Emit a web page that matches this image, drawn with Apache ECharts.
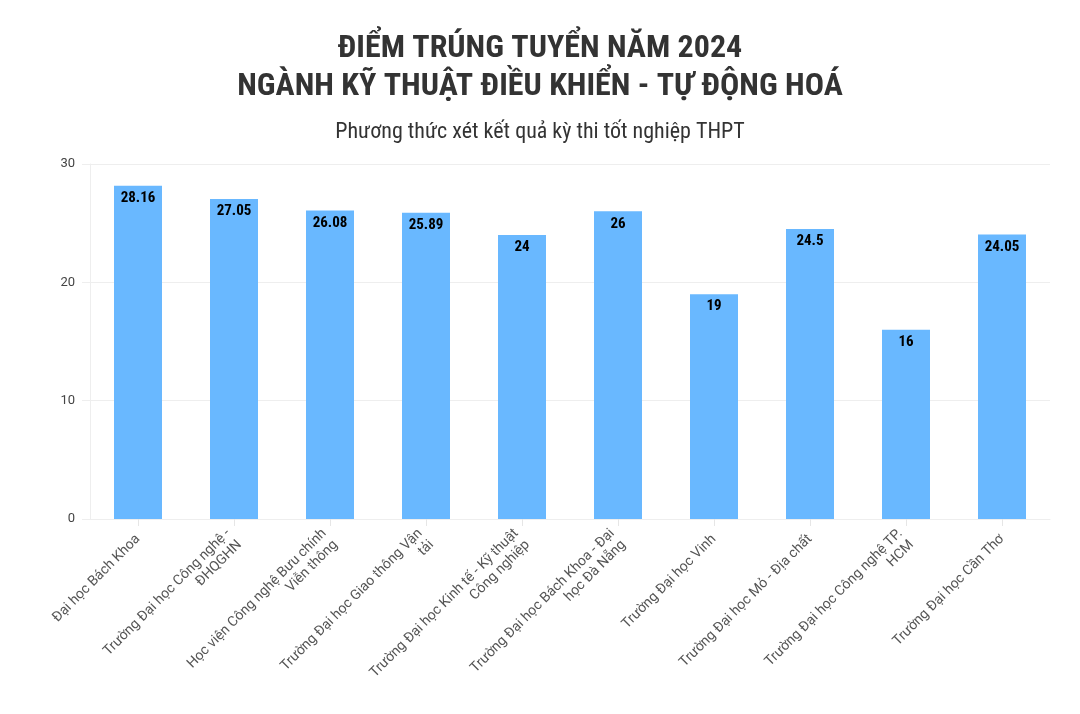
<!DOCTYPE html>
<html>
<head>
<meta charset="utf-8">
<script src="https://cdn.jsdelivr.net/npm/echarts@6/dist/echarts.min.js"></script>
<style>html,body{margin:0;padding:0;background:#fff}#c{width:1080px;height:714px}</style>
</head>
<body>
<div id="c"></div>
<script>
const categories = [
  "Đại học Bách Khoa",
  "Trường Đại học Công nghệ - ĐHQGHN",
  "Học viện Công nghệ Bưu chính Viễn thông",
  "Trường Đại học Giao thông Vận tải",
  "Trường Đại học Kinh tế - Kỹ thuật Công nghiệp",
  "Trường Đại học Bách Khoa - Đại học Đà Nẵng",
  "Trường Đại học Vinh",
  "Trường Đại học Mỏ - Địa chất",
  "Trường Đại học Công nghệ TP. HCM",
  "Trường Đại học Cần Thơ"
];
const scores = [28.16, 27.05, 26.08, 25.89, 24, 26, 19, 24.5, 16, 24.05];
const yTicks = [0, 10, 20, 30];

const titleText = "ĐIỂM TRÚNG TUYỂN NĂM 2024\nNGÀNH KỸ THUẬT ĐIỀU KHIỂN - TỰ ĐỘNG HOÁ";
const subtitleText = "Phương thức xét kết quả kỳ thi tốt nghiệp THPT";

const condensed = '"Roboto Condensed", "Liberation Sans Narrow", "DejaVu Sans Condensed", Roboto, sans-serif';
const labelFont = 'Roboto, sans-serif';
const labelSize = 14;

const mctx = document.createElement('canvas').getContext('2d');
mctx.font = labelSize + 'px Roboto';
function wrap(s, maxW) {
  const words = s.split(' ');
  const lines = [];
  let cur = '';
  for (const w of words) {
    const t = cur ? cur + ' ' + w : w;
    if (cur && mctx.measureText(t).width > maxW) { lines.push(cur); cur = w; }
    else cur = t;
  }
  if (cur) lines.push(cur);
  return lines.join('\n');
}

const chart = echarts.init(document.getElementById('c'));
chart.setOption({
  backgroundColor: '#ffffff',
  animation: false,
  title: [
    {
      text: titleText,
      left: 'center',
      top: 25,
      textStyle: { fontFamily: condensed, fontWeight: 'bold', fontSize: 32, lineHeight: 38, color: '#333333' }
    },
    {
      text: subtitleText,
      left: 'center',
      top: 114,
      textStyle: { fontFamily: condensed, fontWeight: 'normal', fontSize: 22, lineHeight: 26, color: '#333333' }
    }
  ],
  grid: { left: 90, right: 30, top: 164, bottom: 195, containLabel: false },
  xAxis: {
    type: 'category',
    data: categories,
    axisLine: { lineStyle: { color: '#eeeeee' } },
    axisTick: { show: true, alignWithLabel: true, length: 7, lineStyle: { color: '#e6e6e6' } },
    axisLabel: {
      rotate: 45,
      interval: 0,
      margin: 18,
      fontSize: labelSize,
      fontFamily: labelFont,
      color: '#555555',
      lineHeight: 16,
      formatter: v => wrap(v, 211)
    }
  },
  yAxis: {
    type: 'value',
    min: yTicks[0],
    max: yTicks[yTicks.length - 1],
    interval: 10,
    axisLine: { show: true, lineStyle: { color: '#eeeeee' } },
    axisTick: { show: true, length: 8, lineStyle: { color: '#eeeeee' } },
    splitLine: { lineStyle: { color: '#eeeeee' } },
    axisLabel: { fontSize: 13, fontFamily: labelFont, color: '#444444', margin: 15 }
  },
  series: [{
    type: 'bar',
    data: scores,
    barWidth: '50%',
    itemStyle: { color: '#69b8ff' },
    label: {
      show: true,
      position: 'insideTop',
      distance: 5,
      fontFamily: condensed,
      fontWeight: 'bold',
      fontSize: 15,
      color: '#000000'
    }
  }]
});
</script>
</body>
</html>
